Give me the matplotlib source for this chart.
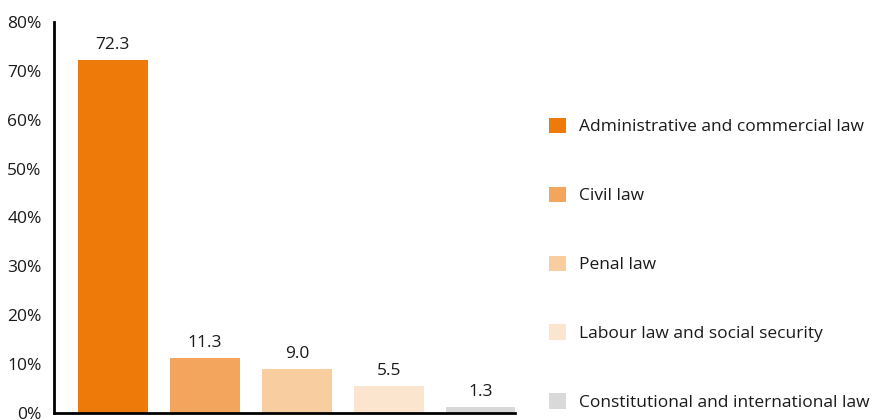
import matplotlib
matplotlib.use("Agg")
import matplotlib.pyplot as plt
from matplotlib.patches import Patch
from matplotlib.ticker import FuncFormatter

categories = ["Administrative and commercial law", "Civil law", "Penal law",
              "Labour law and social security", "Constitutional and international law"]
values = [72.3, 11.3, 9.0, 5.5, 1.3]
colors = ["#EE7A0A", "#F3A45D", "#F8CDA0", "#FCE5CF", "#D9D9D9"]
yticks = [0, 10, 20, 30, 40, 50, 60, 70, 80]

plt.rcParams['font.family'] = ['Open Sans', 'DejaVu Sans']

W, H = 876, 420
fig = plt.figure(figsize=(W / 100, H / 100), dpi=100)
ax = fig.add_axes([54 / W, 7 / H, (515 - 54) / W, (413 - 22) / H])

x = list(range(len(values)))
bars = ax.bar(x, values, width=0.76, color=colors, zorder=2)
for xi, v in zip(x, values):
    ax.annotate(f"{v:.1f}", (xi, v), xytext=(0, 5), textcoords="offset points",
                ha="center", va="bottom", fontsize=12.5, color="#1a1a1a")

ax.set_xlim(-0.64, 4.37)
ax.set_ylim(0, 80)
ax.set_yticks(yticks)
ax.yaxis.set_major_formatter(FuncFormatter(lambda v, p: f"{int(v)}%"))
ax.tick_params(axis="y", length=0, pad=9, labelsize=12.5, labelcolor="#1a1a1a")
ax.set_xticks([])
for s in ["top", "right"]:
    ax.spines[s].set_visible(False)
for s in ["left", "bottom"]:
    ax.spines[s].set_linewidth(2)
    ax.spines[s].set_color("black")

handles = [Patch(facecolor=c, edgecolor="none") for c in colors]
fig.legend(handles, categories, loc="upper left", bbox_to_anchor=(540 / W, 1 - 109 / H),
           frameon=False, fontsize=12.5, handlelength=1.0, handleheight=1.0,
           handletextpad=0.75, labelspacing=2.95, borderpad=0, labelcolor="#1a1a1a")

fig.savefig("out.png", dpi=100)
